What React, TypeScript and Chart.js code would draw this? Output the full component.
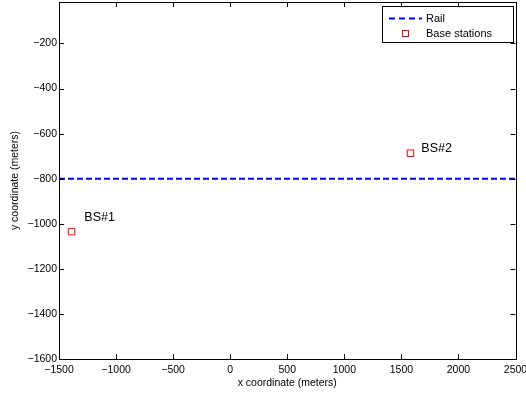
import React, { useEffect, useRef } from "react";
import { Chart, registerables } from "chart.js";

Chart.register(...registerables);

const railX = [-1500, 2500];
const railY = [-800, -800];
const bsNames = ["BS#1", "BS#2"];
const bsX = [-1390, 1580];
const bsY = [-1035, -687];
const bsLabelX = [-1278, 1675];
const bsLabelY = [-971, -665];
const xTicks = [-1500, -1000, -500, 0, 500, 1000, 1500, 2000, 2500];
const yTicks = [-1600, -1400, -1200, -1000, -800, -600, -400, -200];
const xRange = [-1500, 2500];
const yRange = [-1600, -16];
const legendLabels = ["Rail", "Base stations"];
const xTitle = "x coordinate (meters)";
const yTitle = "y coordinate (meters)";

const FONT = '"Liberation Sans", Arial, Helvetica, sans-serif';
const fmt = (v: number) => String(v).replace("-", "\u2212");

const matlabPlugin = {
  id: "matlabDecor",
  afterDraw(chart: any) {
    const { ctx, chartArea } = chart;
    const { left, right, top, bottom } = chartArea;
    const xs = chart.scales.x;
    const ys = chart.scales.y;
    ctx.save();
    // box
    ctx.strokeStyle = "#000";
    ctx.lineWidth = 1;
    ctx.setLineDash([]);
    ctx.strokeRect(Math.round(left) + 0.5, Math.round(top) + 0.5, Math.round(right - left), Math.round(bottom - top));
    // inward ticks
    const tl = 5;
    ctx.beginPath();
    xTicks.forEach((v) => {
      const px = Math.round(xs.getPixelForValue(v)) + 0.5;
      ctx.moveTo(px, bottom);
      ctx.lineTo(px, bottom - tl);
      ctx.moveTo(px, top);
      ctx.lineTo(px, top + tl);
    });
    yTicks.forEach((v) => {
      const py = Math.round(ys.getPixelForValue(v)) + 0.5;
      ctx.moveTo(left, py);
      ctx.lineTo(left + tl, py);
      ctx.moveTo(right, py);
      ctx.lineTo(right - tl, py);
    });
    ctx.stroke();

    // station labels
    ctx.fillStyle = "#000";
    ctx.font = `12.5px ${FONT}`;
    ctx.textAlign = "left";
    ctx.textBaseline = "middle";
    bsNames.forEach((n, i) => {
      ctx.fillText(n, xs.getPixelForValue(bsLabelX[i]), ys.getPixelForValue(bsLabelY[i]));
    });

    // legend
    const lx = 382.5, ly = 6.5, lw = 131, lh = 36;
    ctx.fillStyle = "#fff";
    ctx.fillRect(lx, ly, lw, lh);
    ctx.strokeStyle = "#000";
    ctx.lineWidth = 1;
    ctx.strokeRect(lx, ly, lw, lh);
    ctx.strokeStyle = "#0000ff";
    ctx.lineWidth = 2;
    ctx.setLineDash([6, 4]);
    ctx.beginPath();
    ctx.moveTo(389, 18.5);
    ctx.lineTo(422, 18.5);
    ctx.stroke();
    ctx.setLineDash([]);
    ctx.strokeStyle = "#ff0000";
    ctx.lineWidth = 1;
    ctx.strokeRect(402.5, 30.5, 6, 6);
    ctx.fillStyle = "#000";
    ctx.font = `11px ${FONT}`;
    ctx.textAlign = "left";
    ctx.textBaseline = "middle";
    ctx.fillText(legendLabels[0], 426, 18.5);
    ctx.fillText(legendLabels[1], 426, 34);
    ctx.restore();
  },
};

export default function App() {
  const ref = useRef<HTMLCanvasElement | null>(null);
  useEffect(() => {
    document.body.style.margin = "0";
    const canvas = ref.current!;
    const chart = new Chart(canvas, {
      type: "scatter",
      data: {
        datasets: [
          {
            label: legendLabels[0],
            data: railX.map((x, i) => ({ x, y: railY[i] })),
            showLine: true,
            borderColor: "#0000ff",
            borderWidth: 2,
            borderDash: [6, 3],
            pointRadius: 0,
            fill: false,
          },
          {
            label: legendLabels[1],
            data: bsX.map((x, i) => ({ x, y: bsY[i] })),
            showLine: false,
            pointStyle: "rect",
            pointRadius: 4.6,
            pointBorderWidth: 1,
            pointBorderColor: "#ff0000",
            pointBackgroundColor: "rgba(0,0,0,0)",
            borderColor: "#ff0000",
            backgroundColor: "rgba(0,0,0,0)",
          },
        ],
      },
      options: {
        animation: false,
        responsive: false,
        devicePixelRatio: 1,
        layout: { autoPadding: false, padding: { top: 2, right: 10.5, bottom: 0, left: 0 } },
        plugins: { legend: { display: false }, tooltip: { enabled: false } },
        scales: {
          x: {
            type: "linear",
            min: xRange[0],
            max: xRange[1],
            grid: { display: false, drawTicks: false },
            border: { display: false },
            afterBuildTicks: (s: any) => {
              s.ticks = xTicks.map((v) => ({ value: v }));
            },
            afterFit: (s: any) => {
              s.height = 35;
              s.paddingLeft = 0;
              s.paddingRight = 0;
            },
            ticks: {
              color: "#000",
              font: { family: FONT, size: 10.5 },
              padding: 5,
              maxRotation: 0,
              autoSkip: false,
              callback: (v: any) => fmt(Number(v)),
            },
            title: {
              display: true,
              text: xTitle,
              color: "#000",
              font: { family: FONT, size: 10.5 },
              padding: { top: 0, bottom: 5 },
            },
          },
          y: {
            type: "linear",
            min: yRange[0],
            max: yRange[1],
            grid: { display: false, drawTicks: false },
            border: { display: false },
            afterBuildTicks: (s: any) => {
              s.ticks = yTicks.map((v) => ({ value: v }));
            },
            afterFit: (s: any) => {
              s.width = 59;
              s.paddingTop = 0;
              s.paddingBottom = 0;
            },
            ticks: {
              color: "#000",
              font: { family: FONT, size: 10.5 },
              padding: 2,
              autoSkip: false,
              callback: (v: any) => fmt(Number(v)),
            },
            title: {
              display: true,
              text: yTitle,
              color: "#000",
              font: { family: FONT, size: 10.5 },
              padding: { top: 8.7, bottom: 0 },
            },
          },
        },
      },
      plugins: [matlabPlugin],
    });
    return () => chart.destroy();
  }, []);
  return (
    <div style={{ position: "absolute", left: 0, top: 0, width: 526, height: 394, background: "#fff" }}>
      <canvas ref={ref} width={526} height={394} style={{ width: 526, height: 394 }} />
    </div>
  );
}
